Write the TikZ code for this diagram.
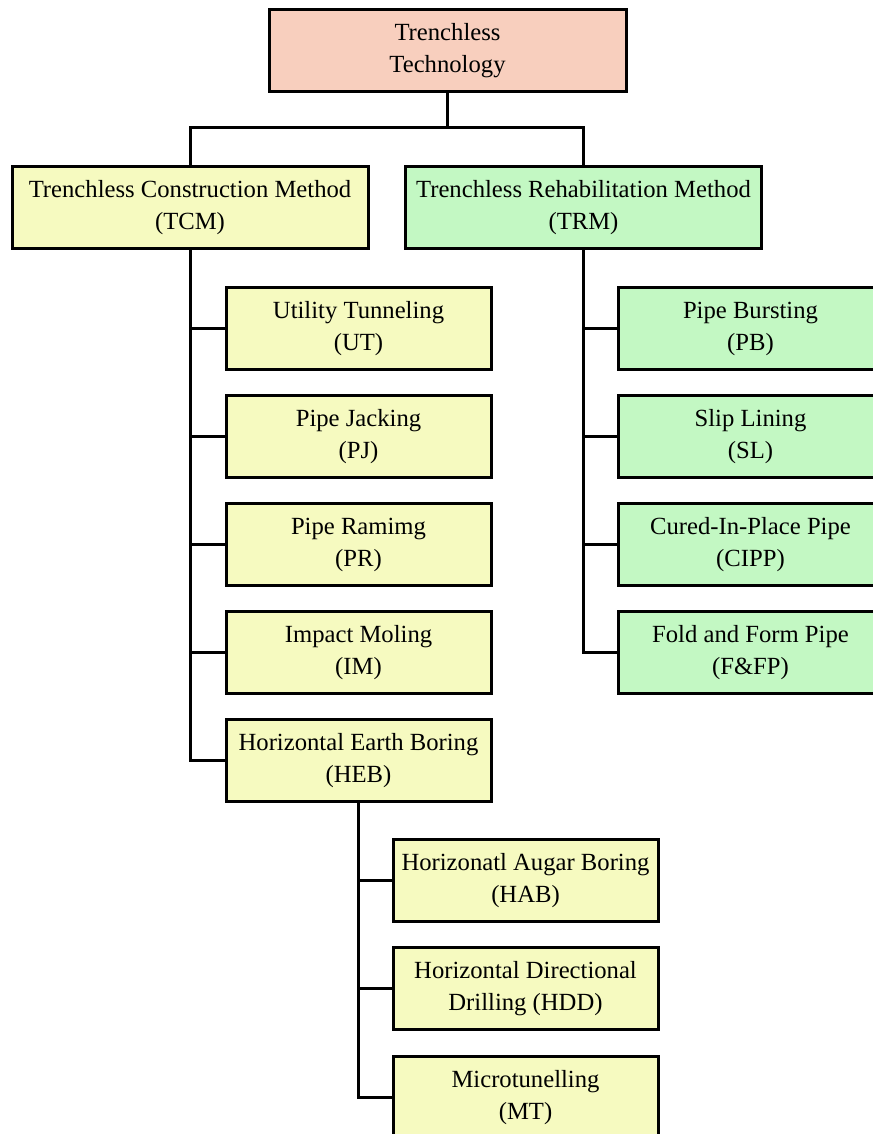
\documentclass[tikz,border=0pt]{standalone}
\usepackage{fontspec}
\setmainfont{Liberation Serif}
\definecolor{salmon}{HTML}{F8CFBE}
\definecolor{paleyellow}{HTML}{F6FAC0}
\definecolor{palegreen}{HTML}{C3F8C3}
\tikzset{
  box/.style={draw=black, line width=2.25pt, align=center, inner sep=0pt,
    font=\fontsize{18.5pt}{24pt}\selectfont, minimum height=61.5pt},
  topbox/.style={box, fill=salmon, minimum width=267.75pt},
  mainbox/.style={box, minimum width=267pt},
  subbox/.style={box, fill=paleyellow, minimum width=198.75pt},
  rsubbox/.style={box, fill=palegreen, minimum width=198.75pt},
  conn/.style={line width=2.25pt, line cap=rect}
}
\begin{document}
\begin{tikzpicture}[x=0.75pt,y=-0.75pt]
\clip (0,0) rectangle (873,1134);
\fill[white] (0,0) rectangle (873,1134);
\node[topbox] (top) at (447.5,50.5) {Trenchless\\Technology};
\node[mainbox, fill=paleyellow] (tcm) at (190,208) {Trenchless Construction Method\\(TCM)};
\node[mainbox, fill=palegreen] (trm) at (583.5,208) {Trenchless Rehabilitation Method\\(TRM)};
\node[subbox] (ut) at (358.5,328.5) {Utility Tunneling\\(UT)};
\node[subbox] (pj) at (358.5,436.5) {Pipe Jacking\\(PJ)};
\node[subbox] (pr) at (358.5,544.5) {Pipe Ramimg\\(PR)};
\node[subbox] (im) at (358.5,652.5) {Impact Moling\\(IM)};
\node[subbox] (heb) at (358.5,760.5) {Horizontal Earth Boring\\(HEB)};
\node[rsubbox] (pb) at (750.5,328.5) {Pipe Bursting\\(PB)};
\node[rsubbox] (sl) at (750.5,436.5) {Slip Lining\\(SL)};
\node[rsubbox] (cipp) at (750.5,544.5) {Cured-In-Place Pipe\\(CIPP)};
\node[rsubbox] (ffp) at (750.5,652.5) {Fold and Form Pipe\\(F\&FP)};
\node[subbox] (hab) at (525.5,880.5) {Horizonatl Augar Boring\\(HAB)};
\node[subbox] (hdd) at (525.5,988.5) {Horizontal Directional\\Drilling (HDD)};
\node[subbox] (mt) at (525.5,1097.5) {Microtunelling\\(MT)};
\coordinate (j) at (447.5,128);
\draw[conn] (top.south) -- (j);
\draw[conn] (j) -| (tcm.north);
\draw[conn] (j) -| (trm.north);
\draw[conn] (tcm.south) |- (heb.west);
\foreach \c in {ut,pj,pr,im} \draw[conn] (tcm.south |- \c.west) -- (\c.west);
\draw[conn] (trm.south) |- (ffp.west);
\foreach \c in {pb,sl,cipp} \draw[conn] (trm.south |- \c.west) -- (\c.west);
\draw[conn] (heb.south) |- (mt.west);
\foreach \c in {hab,hdd} \draw[conn] (heb.south |- \c.west) -- (\c.west);
\end{tikzpicture}
\end{document}
